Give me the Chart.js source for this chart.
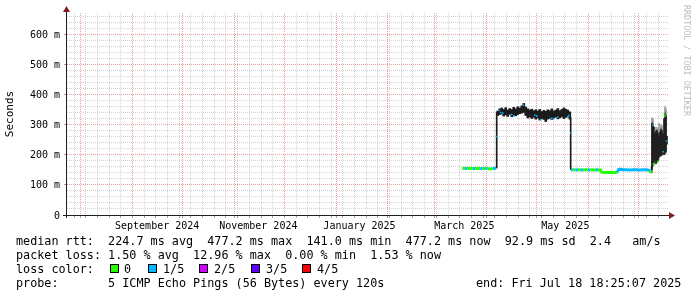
<!DOCTYPE html>
<html><head><meta charset="utf-8">
<script src="https://cdn.jsdelivr.net/npm/chart.js@4/dist/chart.umd.min.js"></script>
<style>
html,body{margin:0;padding:0;background:#fff;}
#wrap{position:relative;width:697px;height:297px;overflow:hidden;background:#fff;}
#c{position:absolute;left:0;top:0;}
.t{position:absolute;font-family:'DejaVu Sans Mono',monospace;font-size:11.78px;white-space:pre;color:#000;line-height:14px;}
.box{position:absolute;width:7px;height:7px;border:1px solid #000;}
#wm{position:absolute;left:682px;top:5px;font-family:'DejaVu Sans Mono',monospace;font-size:8.4px;line-height:10px;color:#bdbdbd;writing-mode:vertical-rl;white-space:pre;}
</style>
</head><body>
<div id="wrap">
<canvas id="c" width="697" height="297"></canvas>
<div id="wm">RRDTOOL / TOBI OETIKER</div>
<div class="t" style="left:16px;top:234px">median rtt:  224.7 ms avg  477.2 ms max  141.0 ms min  477.2 ms now  92.9 ms sd  2.4   am/s</div>
<div class="t" style="left:16px;top:248px">packet loss: 1.50 % avg  12.96 % max  0.00 % min  1.53 % now</div>
<div class="t" style="left:16px;top:262px">loss color:</div>
<div class="box" style="left:110px;top:264px;background:#26ff00"></div><div class="t" style="left:124px;top:262px">0</div>
<div class="box" style="left:148px;top:264px;background:#00b8ff"></div><div class="t" style="left:163px;top:262px">1/5</div>
<div class="box" style="left:199px;top:264px;background:#d200ff"></div><div class="t" style="left:214px;top:262px">2/5</div>
<div class="box" style="left:251px;top:264px;background:#5e00ff"></div><div class="t" style="left:266px;top:262px">3/5</div>
<div class="box" style="left:302px;top:264px;background:#ff0000"></div><div class="t" style="left:317px;top:262px">4/5</div>
<div class="t" style="left:16px;top:276px">probe:       5 ICMP Echo Pings (56 Bytes) every 120s</div>
<div class="t" style="left:476px;top:276px">end: Fri Jul 18 18:25:07 2025</div>
</div>
<script>
// x values: days since graph start (2024-07-23 18:25), graph spans 360 days
// y values: round-trip time in milliseconds
const xMaxDays = 360;
const yMaxMs = 670;
const lossColors = ['#26ff00', '#00b8ff', '#d200ff', '#5e00ff', '#ff0000'];

const monthStartDays = [8.23, 39.23, 69.23, 100.23, 130.23, 161.23, 192.23, 220.23, 251.23, 281.23, 312.23, 342.23];
const firstSundayDay = 4.23;
const xLabelDays = [54.0, 114.6, 175.2, 238.0, 298.5];
const xLabels = ['September 2024', 'November 2024', 'January 2025', 'March 2025', 'May 2025'];

// median rtt line, coloured by packet loss (index into lossColors)
const medianDays = [236.8, 238.5, 240.0, 241.5, 243.0, 244.5, 246.0, 247.5, 249.0, 250.5, 252.0, 253.5, 255.0, 257.1, 257.3,
  301.9, 303.0, 304.5, 306.0, 307.5, 309.0, 310.5, 312.0, 313.5, 315.0, 316.5, 318.0, 319.7,
  320.2, 322.0, 324.0, 326.0, 328.0, 329.8,
  330.3, 331.5, 333.0, 335.0, 337.0, 339.0, 341.0, 343.0, 345.0, 347.0, 348.3, 349.2, 350.0];
const medianMs = [154, 155, 154, 155, 154, 154, 155, 154, 154, 155, 154, 153, 154, 155, null,
  150, 150, 149, 150, 150, 149, 150, 150, 149, 150, 149, 150, 149,
  142, 141, 141, 142, 141, 142,
  150, 152, 150, 150, 149, 150, 150, 149, 150, 150, 149, 146, 140];
const medianLoss = [0, 1, 0, 0, 1, 0, 0, 1, 0, 1, 0, 0, 1, 0, 0,
  1, 0, 1, 0, 1, 0, 0, 1, 0, 0, 1, 0, 0,
  0, 0, 0, 0, 0, 1,
  1, 1, 1, 1, 1, 1, 1, 1, 1, 1, 1, 0, 0];

// dense smoke (ping spread), wide columns over the high plateau
const smokeDays = [258.0, 259.2, 260.4, 261.6, 262.8, 264.0, 265.2, 266.4, 267.6, 268.8, 270.0, 271.2, 272.4, 273.6, 274.8, 276.0, 277.2, 278.4, 279.6,
  280.8, 282.0, 283.2, 284.4, 285.6, 286.8, 288.0, 289.2, 290.4, 291.6, 292.8, 294.0, 295.2, 296.4, 297.6, 298.8, 300.0, 301.2];
const smokeLow = [330, 333, 335, 328, 332, 327, 334, 326, 331, 329, 333, 336, 338, 340, 330, 322, 325, 320, 324,
  318, 322, 315, 320, 317, 310, 318, 321, 317, 322, 325, 319, 322, 326, 320, 324, 325, 318];
const smokeHigh = [345, 352, 355, 350, 356, 348, 353, 350, 357, 352, 359, 355, 362, 370, 358, 352, 348, 351, 346,
  349, 345, 350, 343, 347, 344, 349, 346, 352, 345, 348, 353, 346, 350, 355, 351, 348, 342];

// dense smoke, narrow columns (steps and the noisy tail)
const smokeFineDays = [257.4, 301.7, 350.2, 350.4, 351.0, 351.6, 352.2, 352.8, 353.4, 354.0, 354.6, 355.2, 355.8, 356.4, 357.0, 357.6, 358.2, 358.8, 359.4];
const smokeFineLow = [156, 151, 140, 152, 165, 170, 182, 172, 175, 180, 192, 195, 198, 200, 205, 200, 205, 210, 235];
const smokeFineHigh = [340, 322, 160, 305, 300, 292, 270, 278, 282, 272, 262, 276, 285, 280, 268, 320, 338, 330, 262];

// light smoke (outlier pings) in the tail
const smokeLightDays = [350.4, 351.0, 352.8, 354.0, 354.6, 355.8, 356.4, 358.2, 358.8];
const smokeLightLow = [150, 160, 168, 176, 185, 195, 196, 200, 205];
const smokeLightHigh = [322, 318, 292, 290, 304, 300, 296, 360, 352];

// isolated median samples visible at the edges of the smoke
const speckDays = [257.2, 258.6, 259.8, 261.0, 266.4, 267.6, 273.4, 280.2, 281.4, 283.8, 290.4, 291.6, 294.0, 300.0, 300.6, 301.8,
  351.0, 351.3, 351.6, 354.0, 357.0, 357.9, 358.2, 359.1];
const speckMs = [260, 347, 340, 338, 333, 328, 364, 331, 328, 316, 321, 319, 324, 327, 330, 272,
  298, 170, 168, 178, 210, 335, 328, 245];
const speckLoss = [1, 1, 1, 1, 1, 1, 1, 1, 1, 1, 1, 1, 1, 1, 1, 1,
  1, 0, 0, 0, 1, 0, 0, 1];

const gridDays = (() => {
  const s = new Set(monthStartDays.map(v => +v.toFixed(2)));
  for (let d = firstSundayDay; d < xMaxDays; d += 7) s.add(+d.toFixed(2));
  return [...s].sort((a, b) => a - b);
})();
const isMonth = v => monthStartDays.some(m => Math.abs(m - v) < 0.05);
const GRID = 'rgba(143,143,143,0.38)';
const MGRID = 'rgba(222,80,80,0.55)';
const TICK = 'rgba(100,100,100,0.6)';
const FONT = 'DejaVu Sans Mono';

const toXY = (xs, ys) => xs.map((x, i) => ({x, y: ys[i]}));
const toFloat = (xs, lo, hi) => xs.map((x, i) => ({x, y: [lo[i], hi[i]]}));

const axisPlugin = {
  id: 'rrdAxes',
  afterDraw(chart) {
    const {ctx, chartArea: {left, right, top, bottom}} = chart;
    ctx.save();
    ctx.strokeStyle = '#1f1f1f';
    ctx.lineWidth = 1;
    ctx.beginPath();
    ctx.moveTo(left - 4, bottom + 0.5); ctx.lineTo(right + 2, bottom + 0.5);
    ctx.moveTo(left - 0.5, bottom + 3); ctx.lineTo(left - 0.5, top - 2);
    ctx.stroke();
    ctx.fillStyle = '#7f1f1f';
    ctx.beginPath();
    ctx.moveTo(right + 7, bottom + 0.5); ctx.lineTo(right + 1, bottom - 3); ctx.lineTo(right + 1, bottom + 4); ctx.closePath(); ctx.fill();
    ctx.beginPath();
    ctx.moveTo(left - 0.5, top - 7); ctx.lineTo(left - 4, top - 1); ctx.lineTo(left + 3, top - 1); ctx.closePath(); ctx.fill();
    ctx.restore();
  }
};

new Chart(document.getElementById('c'), {
  type: 'line',
  data: {
    datasets: [
      {type: 'scatter', label: 'median samples', data: toXY(speckDays, speckMs), order: 0, showLine: false,
       pointStyle: 'rect', pointRadius: 1.1, pointBorderWidth: 0,
       pointBackgroundColor: c => lossColors[speckLoss[c.dataIndex]]},
      {type: 'line', label: 'median rtt', data: toXY(medianDays, medianMs), order: 1, borderWidth: 3,
       pointRadius: 0, tension: 0, spanGaps: false, borderCapStyle: 'butt', fill: false,
       borderColor: lossColors[0],
       segment: {borderColor: c => lossColors[medianLoss[c.p0DataIndex]]}},
      {type: 'bar', label: 'smoke', data: toFloat(smokeDays, smokeLow, smokeHigh), order: 2,
       backgroundColor: '#1c1c1c', barThickness: 2, grouped: false, borderWidth: 0},
      {type: 'bar', label: 'smoke fine', data: toFloat(smokeFineDays, smokeFineLow, smokeFineHigh), order: 3,
       backgroundColor: '#1c1c1c', barThickness: 1, grouped: false, borderWidth: 0},
      {type: 'bar', label: 'smoke light', data: toFloat(smokeLightDays, smokeLightLow, smokeLightHigh), order: 4,
       backgroundColor: '#9a9a9a', barThickness: 1, grouped: false, borderWidth: 0}
    ]
  },
  options: {
    responsive: false, animation: false, devicePixelRatio: 1,
    plugins: {legend: {display: false}, tooltip: {enabled: false}},
    layout: {padding: {left: 0, right: 29, top: 13, bottom: 63}},
    scales: {
      x: {
        type: 'linear', min: 0, max: xMaxDays, offset: false, position: 'bottom',
        afterBuildTicks: s => { s.ticks = gridDays.map(v => ({value: v})); },
        afterFit: s => { s.height = 3; },
        ticks: {display: false, autoSkip: false},
        grid: {color: c => isMonth(c.tick.value) ? MGRID : GRID, lineWidth: 1, drawTicks: true, tickLength: 3,
               tickColor: TICK, offset: false},
        border: {display: false, dash: [1, 1]}
      },
      x2: {
        type: 'linear', min: 0, max: xMaxDays, offset: false, position: 'bottom',
        afterBuildTicks: s => { s.ticks = xLabelDays.map(v => ({value: v})); },
        afterFit: s => { s.height = 16; },
        ticks: {autoSkip: false, maxRotation: 0, padding: 2, color: '#000', font: {family: FONT, size: 10},
                callback: (v, i) => xLabels[i]},
        grid: {display: false, drawTicks: false},
        border: {display: false}
      },
      y: {
        type: 'linear', min: 0, max: yMaxMs,
        afterBuildTicks: s => { const t = []; for (let v = 0; v <= 660; v += 20) t.push({value: v}); s.ticks = t; },
        afterFit: s => { s.width = 67; },
        ticks: {autoSkip: false, padding: 4, labelOffset: 1, color: '#000', font: {family: FONT, size: 10},
                callback: v => v % 100 === 0 ? (v === 0 ? '0' : v + ' m') : ''},
        grid: {color: c => c.tick.value % 100 === 0 ? MGRID : GRID, lineWidth: 1, drawTicks: true, tickLength: 3,
               tickColor: c => c.tick.value % 100 === 0 ? TICK : 'rgba(0,0,0,0)'},
        border: {display: false, dash: [1, 1]},
        title: {display: true, text: 'Seconds', color: '#000', font: {family: FONT, size: 11}, padding: {top: 4, bottom: 0}}
      }
    }
  },
  plugins: [axisPlugin]
});
</script>
</body></html>
